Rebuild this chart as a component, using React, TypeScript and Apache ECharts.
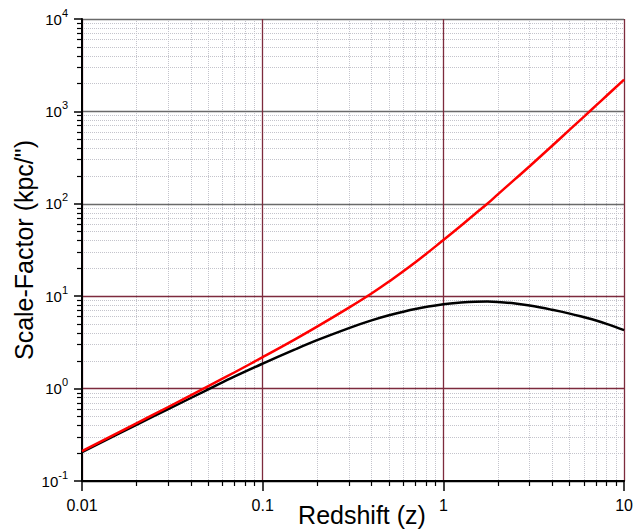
import React, { useEffect, useRef } from 'react';
import * as echarts from 'echarts';

// Redshift sample points
const redshift = [0.01, 0.02, 0.03, 0.05, 0.07, 0.1, 0.15, 0.2, 0.3, 0.4, 0.5, 0.7, 1, 1.25, 1.5, 1.75, 2, 2.5, 3, 4, 5, 6, 7, 8, 10];
// black curve (kpc/")
const blackScale = [0.205, 0.405, 0.6, 0.98, 1.355, 1.865, 2.64, 3.34, 4.52, 5.47, 6.22, 7.28, 8.18, 8.55, 8.72, 8.74, 8.66, 8.33, 7.92, 7.12, 6.48, 5.92, 5.46, 5.02, 4.3];
// red curve (kpc/")
const redScale = [0.21, 0.42, 0.632, 1.064, 1.503, 2.19, 3.39, 4.68, 7.52, 10.7, 14.4, 23.3, 40.5, 57.8, 78, 100, 126.5, 186, 255, 425, 634, 879, 1161, 1476, 2208];

const xTickLabels = ['0.01', '0.1', '1', '10'];
const yExponents = ['-1', '0', '1', '2', '3', '4'];
const mantissas = [2, 3, 4, 5, 6, 7, 8, 9];
const xDecades = [0.01, 0.1, 1];
const yDecades = [0.1, 1, 10, 100, 1000];

const xMinor: number[] = [];
xDecades.forEach((d) => mantissas.forEach((m) => xMinor.push(+(m * d).toPrecision(3))));
const yMinor: number[] = [];
yDecades.forEach((d) => mantissas.forEach((m) => yMinor.push(+(m * d).toPrecision(3))));

const FONT = '"Liberation Sans", Arial, Helvetica, sans-serif';
const MAROON = '#7d2b3d';
const GRAY = '#6a6a6a';
const MINOR = '#c4c4cc';

export default function App() {
  const ref = useRef<HTMLDivElement>(null);
  useEffect(() => {
    if (!ref.current) return;
    const chart = echarts.init(ref.current, undefined, { renderer: 'svg' });
    const grid = { left: 82, right: 9, top: 19, bottom: 48 };
    chart.setOption({
      animation: false,
      backgroundColor: '#ffffff',
      grid: { ...grid, containLabel: false },
      xAxis: [
        {
          type: 'log',
          logBase: 10,
          min: 0.01,
          max: 10,
          position: 'bottom',
          z: 1,
          axisLine: { show: true, lineStyle: { color: '#000', width: 2 } },
          axisTick: { show: true, inside: false, length: 10, lineStyle: { color: '#000', width: 1.5 } },
          axisLabel: {
            show: true,
            margin: 16,
            fontSize: 16,
            fontFamily: FONT,
            color: '#000',
            formatter: (v: number) => xTickLabels[Math.round(Math.log10(v)) + 2] ?? '',
          },
          splitLine: { show: true, lineStyle: { color: MAROON, width: 1.3 } },
        },
        {
          type: 'log',
          logBase: 10,
          min: 0.01,
          max: 10,
          position: 'bottom',
          z: 0,
          axisLine: { show: false },
          axisTick: { show: true, inside: false, length: 5, customValues: xMinor, lineStyle: { color: '#000', width: 1.2 } },
          axisLabel: { show: false },
          splitLine: { show: true, lineStyle: { color: MINOR, width: 1, type: [1, 1] } },
        },
      ],
      yAxis: [
        {
          type: 'log',
          logBase: 10,
          min: 0.1,
          max: 10000,
          position: 'left',
          z: 1,
          axisLine: { show: true, lineStyle: { color: '#000', width: 2 } },
          axisTick: { show: true, inside: false, length: 8, lineStyle: { color: '#000', width: 1.5 } },
          axisLabel: {
            show: true,
            margin: 14,
            align: 'right',
            verticalAlign: 'middle',
            formatter: (v: number) => {
              const e = yExponents[Math.round(Math.log10(v)) + 1];
              return e === undefined ? '' : '{b|10}{s|' + e + '}';
            },
            rich: {
              b: { fontSize: 15, fontFamily: FONT, color: '#000', lineHeight: 24, verticalAlign: 'middle' },
              s: { fontSize: 11, fontFamily: FONT, color: '#000', lineHeight: 11, verticalAlign: 'top' },
            },
          },
          splitLine: {
            show: true,
            lineStyle: { color: ['#000', MAROON, MAROON, GRAY, GRAY, GRAY], width: 1.3 },
          },
        },
        {
          type: 'log',
          logBase: 10,
          min: 0.1,
          max: 10000,
          position: 'left',
          z: 0,
          axisLine: { show: false },
          axisTick: { show: true, inside: false, length: 5, customValues: yMinor, lineStyle: { color: '#000', width: 1.2 } },
          axisLabel: { show: false },
          splitLine: { show: true, lineStyle: { color: MINOR, width: 1, type: [1, 1] } },
        },
      ],
      graphic: [
        {
          type: 'text',
          x: 362,
          y: 515,
          style: {
            text: 'Redshift (z)',
            font: '25px ' + FONT,
            fill: '#000',
            align: 'center',
            verticalAlign: 'middle',
            textAlign: 'center',
            textVerticalAlign: 'middle',
          },
        },
        {
          type: 'text',
          x: 23.5,
          y: 250,
          rotation: Math.PI / 2,
          style: {
            text: 'Scale-Factor (kpc/")',
            font: '25px ' + FONT,
            fill: '#000',
            align: 'center',
            verticalAlign: 'middle',
            textAlign: 'center',
            textVerticalAlign: 'middle',
          },
        },
      ],
      series: [
        {
          type: 'line',
          xAxisIndex: 0,
          yAxisIndex: 0,
          data: redshift.map((z, i) => [z, blackScale[i]]),
          showSymbol: false,
          smooth: 0.4,
          lineStyle: { color: '#000000', width: 2.5 },
          z: 3,
        },
        {
          type: 'line',
          xAxisIndex: 0,
          yAxisIndex: 0,
          data: redshift.map((z, i) => [z, redScale[i]]),
          showSymbol: false,
          smooth: 0.4,
          lineStyle: { color: '#ff0000', width: 2.5 },
          z: 4,
        },
      ],
    });
    return () => chart.dispose();
  }, []);
  return <div ref={ref} style={{ position: 'fixed', left: 0, top: 0, width: 636, height: 529 }} />;
}
